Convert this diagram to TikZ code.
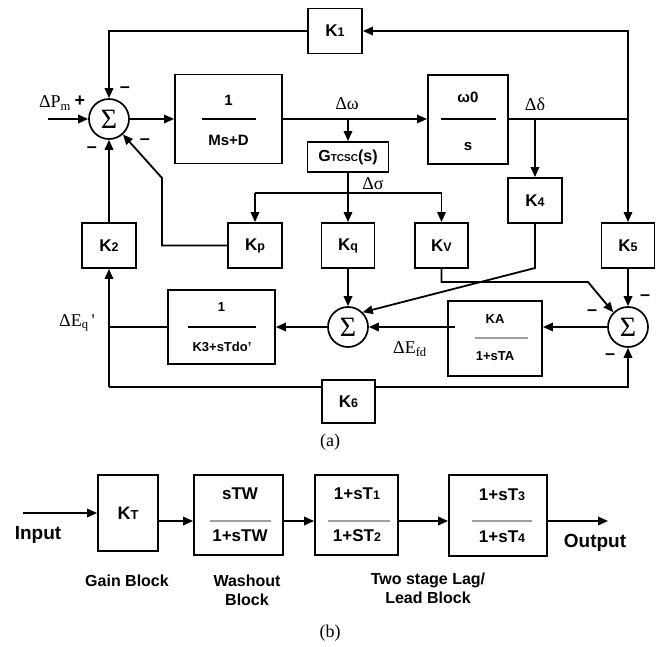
\documentclass[tikz,border=0pt]{standalone}
\usepackage{fontspec}
\setmainfont{Liberation Serif}
\setsansfont{Liberation Sans}
\usetikzlibrary{arrows.meta}
\newcommand{\ksm}[1]{{\fontsize{12.5}{12.5}\selectfont #1}}
\newcommand{\bsf}[1]{\fontsize{#1}{#1}\selectfont\sffamily\bfseries}
\newcommand{\tms}{\fontsize{18}{18}\selectfont\rmfamily}
\begin{document}
\begin{tikzpicture}[x=1pt,y=-1pt,
  blk/.style={draw,line width=1.9pt,inner sep=0pt},
  kbox/.style={blk,minimum width=54,minimum height=45,font={\bsf{17}}},
  sumc/.style={circle,draw,line width=1.7pt,minimum size=40,inner sep=0pt,font={\fontsize{28}{28}\selectfont\rmfamily}},
  arr/.style={line width=1.8pt,-{Triangle[length=10pt,width=8.5pt]}},
  ln/.style={line width=1.8pt},
  fline/.style={line width=1.5pt},
  gline/.style={line width=1.3pt,gray!75},
  txt/.style={inner sep=0pt,anchor=center},
  sgn/.style={inner sep=0pt,font={\bsf{18}}},
]
\useasboundingbox (0,0) rectangle (661,646);

% ---------- (a) ----------
\node[kbox] (K1) at (335,31) {K\ksm{1}};
\node[sumc] (S1) at (109,119) {Σ};
\node[blk,minimum width=107,minimum height=89] (B1) at (228.5,119) {};
\node[blk,minimum width=80,minimum height=89] (B2) at (468,119.5) {};
\node[blk,minimum width=81,minimum height=30,font={\bsf{16}}] (G) at (348,157) {G\ksm{\fontsize{10}{10}\selectfont TCSC}(s)};
\node[kbox] (K4) at (535,200.5) {K\ksm{4}};
\node[kbox] (K2) at (109,245.5) {K\ksm{2}};
\node[kbox] (Kp) at (255,245.5) {K\ksm{p}};
\node[kbox,minimum width=53] (Kq) at (348,245.5) {K\ksm{q}};
\node[kbox,minimum width=53] (Kv) at (441.5,245.5) {K\ksm{V}};
\node[kbox,minimum width=53] (K5) at (628,245.5) {K\ksm{5}};
\node[sumc] (S2) at (348,327) {Σ};
\node[sumc] (S3) at (628,327) {Σ};
\node[blk,minimum width=107,minimum height=74] (B3) at (221.5,327) {};
\node[blk,minimum width=94,minimum height=75] (B4) at (495,338.5) {};
\node[kbox,minimum width=53,minimum height=43] (K6) at (348.5,401.5) {K\ksm{6}};

% fraction contents
\node[txt,font={\bsf{15}}] (B1n) at (228.5,100) {1};
\node[txt,font={\bsf{15}}] (B1d) at (228.5,140) {Ms+D};
\draw[fline] (202,119) -- (256,119);
\node[txt,font={\bsf{15}}] (B2n) at (468,97) {ω0};
\node[txt,font={\bsf{15}}] (B2d) at (468,147) {s};
\draw[fline] (441,119) -- (496,119);
\node[txt,font={\bsf{13}}] (B3n) at (221.5,307) {1};
\node[txt,font={\bsf{13}}] (B3d) at (222,347) {K3+sTdo'};
\draw[fline] (188,327) -- (256,327);
\node[txt,font={\bsf{13}}] (B4n) at (495,319) {KA};
\node[txt,font={\bsf{13}}] (B4d) at (495,356) {1+sTA};
\draw[gline] (475,338) -- (528,338);

% labels
\node[txt,font=\tms] (lPm) at (55,103) {ΔP\textsubscript{m}};
\node[txt,font=\tms] (lw) at (347,104) {Δω};
\node[txt,font=\tms] (ld) at (535,104) {Δδ};
\node[txt,font=\tms] (ls) at (373,184) {Δσ};
\node[txt,font=\tms] (lEq) at (77,323) {ΔE\textsubscript{q}\,\textquotesingle};
\node[txt,font=\tms] (lEfd) at (410,349) {ΔE\textsubscript{fd}};
\node[txt,font=\tms] (la) at (330,442) {(a)};

% signs
\node[sgn] (s1a) at (80,101) {+};
\node[sgn] (s1b) at (125,90) {–};
\node[sgn] (s1c) at (92,150) {–};
\node[sgn] (s1d) at (145,142) {–};
\node[sgn] (s3a) at (592,313) {–};
\node[sgn] (s3b) at (645,298) {–};
\node[sgn] (s3c) at (610,357) {–};

% connectors
\coordinate (pin) at (48,119);
\coordinate (bw) at (348,119);
\coordinate (bd) at (535,119);
\coordinate (rc) at (628,119);
\coordinate (tr) at (628,31);
\coordinate (tl) at (109,31);
\draw[arr] (pin) -- (S1.west);
\draw[arr] (S1.east) -- (B1.west);
\draw[arr] (B1.east) -- (B2.west |- B1.east);
\draw[arr] (bw) -- (G.north);
\draw[ln] (B2.east |- rc) -- (rc);
\draw[arr] (rc) -- (tr) -- (K1.east);
\draw[arr] (K1.west) -- (tl) -- (S1.north);
\draw[arr] (rc) -- (K5.north);
\draw[arr] (bd) -- (K4.north);

\coordinate (sl) at (255,193);
\coordinate (sr) at (441.5,193);
\draw[arr] (G.south) -- (Kq.north);
\draw[ln] (sl) -- (sr);
\draw[arr] (sl) -- (Kp.north);
\draw[arr] (sr) -- (Kv.north);

\coordinate (pk1) at (162,245.5);
\coordinate (pk2) at (162,178);
\draw[arr] (Kp.west) -- (pk1) -- (pk2) -- (S1);
\draw[arr] (K2.north) -- (S1.south);
\draw[arr] (Kq.south) -- (S2.north);
\coordinate (k4b) at (535,268);
\draw[arr] (K4.south) -- (k4b) -- (S2.north east);
\coordinate (kv1) at (441.5,282);
\coordinate (kv2) at (588,282);
\draw[arr] (Kv.south) -- (kv1) -- (kv2) -- (S3.north west);
\draw[arr] (K5.south) -- (S3.north);
\draw[arr] (S3.west) -- (B4.east |- S3.west);
\coordinate (ka) at (455,327);
\draw[arr] (ka) -- (S2.east);
\draw[arr] (S2.west) -- (B3.east);
\coordinate (eq) at (109,327);
\coordinate (bl) at (109,387);
\coordinate (br) at (628,387);
\draw[ln] (B3.west) -- (eq);
\draw[arr] (bl) -- (K2.south);
\draw[ln] (bl) -- (bl -| K6.west);
\draw[arr] (bl -| K6.east) -- (br) -- (S3.south);

% ---------- (b) ----------
\node[blk,minimum width=60,minimum height=76,font={\bsf{18}}] (KT) at (128,513) {K\ksm{\fontsize{13}{13}\selectfont T}};
\node[blk,minimum width=89,minimum height=80] (W) at (238.5,515) {};
\node[blk,minimum width=83,minimum height=80] (L1) at (356.5,515) {};
\node[blk,minimum width=98,minimum height=81] (L2) at (498,515.5) {};

\node[txt,font={\bsf{17}}] (Wn) at (240,494) {sTW};
\node[txt,font={\bsf{17}}] (Wd) at (240,536) {1+sTW};
\draw[gline] (210,521) -- (271,521);
\node[txt,font={\bsf{17}}] (L1n) at (357,494) {1+sT\ksm{1}};
\node[txt,font={\bsf{17}}] (L1d) at (357,536) {1+ST\ksm{2}};
\draw[gline] (328,521) -- (390,521);
\node[txt,font={\bsf{17}}] (L2n) at (502,495) {1+sT\ksm{3}};
\node[txt,font={\bsf{17}}] (L2d) at (502,537) {1+sT\ksm{4}};
\draw[gline] (472,521) -- (532,521);

\coordinate (inp) at (23,513);
\coordinate (ry) at (0,521);
\coordinate (outp) at (608,521);
\draw[arr] (inp) -- (KT.west);
\draw[arr] (KT.east |- ry) -- (W.west |- ry);
\draw[arr] (W.east |- ry) -- (L1.west |- ry);
\draw[arr] (L1.east |- ry) -- (L2.west |- ry);
\draw[arr] (L2.east |- ry) -- (outp);

\node[txt,font={\bsf{19}}] (tin) at (38,535) {Input};
\node[txt,font={\bsf{19}}] (tout) at (595,543) {Output};
\node[txt,font={\bsf{16}}] (tg) at (127,581) {Gain Block};
\node[txt,font={\fontsize{16}{19}\selectfont\sffamily\bfseries},align=center] (tw) at (247,590) {Washout\\Block};
\node[txt,font={\fontsize{16}{19}\selectfont\sffamily\bfseries},align=center] (tl2) at (428,588) {Two stage Lag/\\Lead Block};
\node[txt,font=\tms] (lb) at (330,633) {(b)};
\end{tikzpicture}
\end{document}
